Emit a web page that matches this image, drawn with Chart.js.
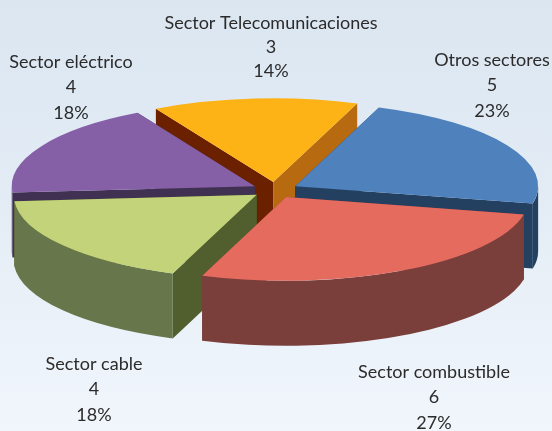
<!DOCTYPE html>
<html><head><meta charset="utf-8">
<style>
html,body{margin:0;padding:0;width:552px;height:431px;overflow:hidden;background:linear-gradient(to bottom,#dbe6f1 0%,#e3ecf5 45%,#f1f6fc 100%);}
canvas{display:block;}
</style>
<script src="https://cdn.jsdelivr.net/npm/chart.js@4/dist/chart.umd.js"></script>
</head><body>
<canvas id="c" width="552" height="431"></canvas>
<script>
const categories = ["Otros sectores","Sector combustible","Sector cable","Sector eléctrico","Sector Telecomunicaciones"];
const values = [5,6,4,4,3];
const topColors = ["#4f81bd","#e56b5f","#c3d379","#8660a7","#fdb216"];
const outerWallColors = ["#234060","#7a3e3b","#68764b","#403152","#b86a10"];
const startFaceColors = ["#234060","#7a3e3b","#505f2d","#403152","#6b2000"];
const endFaceColors = ["#234060","#7a3e3b","#505f2d","#403152","#b86a10"];

const paintOrder = [4,3,0,2,1];
const labelAnchors = [[492,60,25.5],[434,372,25.5],[94,364,25.5],[71,62,25.5],[271,23,24]];
const CX = 275, CY = 190, SQUASH = 0.345, DEPTH = 65, EXPLODE = 23;

const pie3d = {
  id:'pie3d',
  beforeDatasetDraw(chart,args){
    const ctx = chart.ctx, arcs = args.meta.data;
    paintOrder.forEach(i=>{
      const a = arcs[i], s=a.startAngle, e=a.endAngle, r=a.outerRadius, mid=(s+e)/2;
      const ox = CX+Math.cos(mid)*EXPLODE, oy = CY+Math.sin(mid)*EXPLODE*SQUASH;
      const px = t=>ox+Math.cos(t)*r, py = t=>oy+Math.sin(t)*r*SQUASH;
      const face=(t,col)=>{
        ctx.fillStyle=col; ctx.beginPath();
        ctx.moveTo(ox,oy); ctx.lineTo(px(t),py(t));
        ctx.lineTo(px(t),py(t)+DEPTH); ctx.lineTo(ox,oy+DEPTH); ctx.closePath(); ctx.fill();
      };
      face(s,startFaceColors[i]); face(e,endFaceColors[i]);
      for(let k=-1;k<=1;k++){
        const lo=Math.max(s,k*2*Math.PI), hi=Math.min(e,k*2*Math.PI+Math.PI);
        if(hi<=lo) continue;
        ctx.fillStyle=outerWallColors[i]; ctx.beginPath();
        ctx.ellipse(ox,oy,r,r*SQUASH,0,lo,hi,false);
        ctx.ellipse(ox,oy+DEPTH,r,r*SQUASH,0,hi,lo,true);
        ctx.closePath(); ctx.fill();
      }
      ctx.save();
      ctx.translate(ox,oy); ctx.scale(1,SQUASH); ctx.translate(-a.x,-a.y);
      a.draw(ctx);
      ctx.restore();
    });
    return false;
  },
  afterDraw(chart){
    const ctx=chart.ctx, total=values.reduce((p,v)=>p+v,0);
    ctx.save();
    ctx.fillStyle="#2b2b2b"; ctx.textAlign="center"; ctx.textBaseline="middle";
    ctx.font='18px Lato';
    categories.forEach((c,i)=>{
      const [x,y,lh]=labelAnchors[i];
      ctx.fillText(c,x,y);
      ctx.fillText(String(values[i]),x,y+lh);
      ctx.fillText(Math.round(values[i]/total*100)+"%",x,y+2*lh);
    });
    ctx.restore();
  }
};

new Chart(document.getElementById('c'),{
  type:'pie',
  data:{labels:categories,datasets:[{data:values,backgroundColor:topColors,borderWidth:0,radius:243}]},
  options:{
    responsive:false,animation:false,rotation:20.2,
    plugins:{legend:{display:false},tooltip:{enabled:false}},
    layout:{padding:0}
  },
  plugins:[pie3d]
});
</script>
</body></html>
